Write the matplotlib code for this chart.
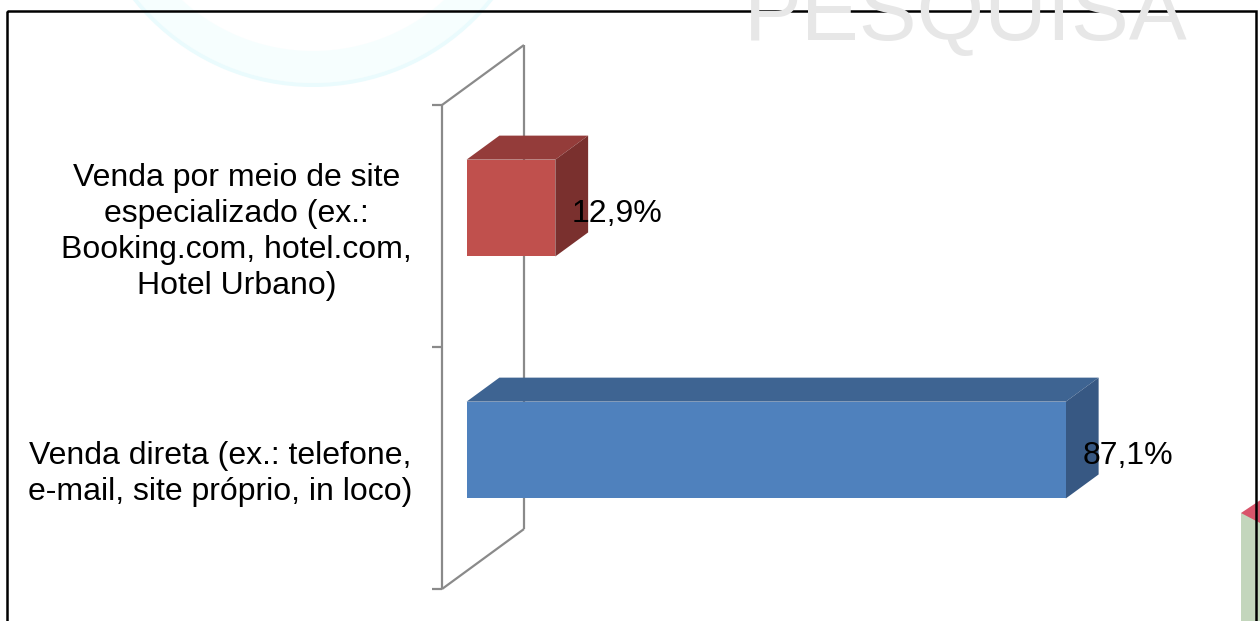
import matplotlib
matplotlib.use("Agg")
import matplotlib.pyplot as plt
from matplotlib.patches import Polygon, Rectangle, Wedge

plt.rcParams['font.family'] = ['Liberation Sans', 'DejaVu Sans']

# -------------------------
# data
# -------------------------
categories = [
    "Venda direta (ex.: telefone,\ne-mail, site próprio, in loco)",
    "Venda por meio de site\nespecializado (ex.:\nBooking.com, hotel.com,\nHotel Urbano)",
]
values = [87.1, 12.9]
value_labels = ["87,1%", "12,9%"]

front_colors = ["#4f81bd", "#c0504d"]
top_colors = ["#3e6492", "#943c3a"]
side_colors = ["#375883", "#7a302e"]

# 3d look: offset for one unit of depth (x in %, y in category units)
DX = 11.92
DY = 0.248
D0, D1 = 0.3, 0.7
BAR_H = 0.4


def proj(x, d, y):
    return (x + d * DX, y + d * DY)


fig = plt.figure(figsize=(12.6, 6.21), dpi=100)

# -------------------------
# background decoration (pixel coords)
# -------------------------
bg = fig.add_axes([0, 0, 1, 1], zorder=-1)
bg.set_xlim(0, 1260)
bg.set_ylim(621, 0)
bg.axis('off')
bg.add_patch(Wedge((313, -143), 226, 0, 360, width=32, color="#f6fefe", lw=0))
bg.add_patch(Wedge((313, -143), 230, 0, 360, width=4, color="#eafbfd", lw=0))
bg.text(744, 40, "PESQUISA", fontsize=62.5, color="#e7e7e7", ha='left', va='baseline')
bg.add_patch(Rectangle((1241, 513), 30, 120, color="#c3d6bc", lw=0))
bg.add_patch(Polygon([(1241, 513), (1262, 499), (1262, 524)], closed=True, color="#d9546a", lw=0))
bg.add_patch(Rectangle((7, 11), 1249, 640, fill=False, ec="black", lw=1.8))

# -------------------------
# chart
# -------------------------
ax = fig.add_axes([0, 0, 1, 1])
ax.set_xlim(-64.24, 118.9)
ax.set_ylim(-0.632, 1.934)
ax.axis('off')

n = len(categories)
y_lo, y_hi = -0.5, n - 0.5
wall_kw = dict(color="#8a8a8a", lw=1.6, zorder=1, solid_capstyle='butt')
# wall outline
ax.plot([0, 0], [y_lo, y_hi], **wall_kw)
ax.plot(*zip(proj(0, 1, y_lo), proj(0, 1, y_hi)), **wall_kw)
ax.plot(*zip(proj(0, 0, y_hi), proj(0, 1, y_hi)), **wall_kw)
ax.plot(*zip(proj(0, 0, y_lo), proj(0, 1, y_lo)), **wall_kw)
for k in range(n + 1):
    ax.plot([-1.4, 0], [y_lo + k, y_lo + k], **wall_kw)

for i, v in enumerate(values):
    lo, hi = i - BAR_H / 2, i + BAR_H / 2
    ax.barh(i + D0 * DY, v, left=D0 * DX, height=BAR_H,
            color=front_colors[i], lw=0, zorder=3)
    top = [proj(0, D0, hi), proj(v, D0, hi), proj(v, D1, hi), proj(0, D1, hi)]
    side = [proj(v, D0, lo), proj(v, D0, hi), proj(v, D1, hi), proj(v, D1, lo)]
    ax.add_patch(Polygon(top, closed=True, color=top_colors[i], lw=0, zorder=2))
    ax.add_patch(Polygon(side, closed=True, color=side_colors[i], lw=0, zorder=2))
    ax.text(v + 0.5 * DX, i + 0.05, value_labels[i], fontsize=23,
            ha='left', va='center', zorder=4)
    ax.text(-4.36, i - 0.025, categories[i], fontsize=23, ha='right', va='center',
            multialignment='center', linespacing=1.25)

fig.savefig("out.png", dpi=100)
